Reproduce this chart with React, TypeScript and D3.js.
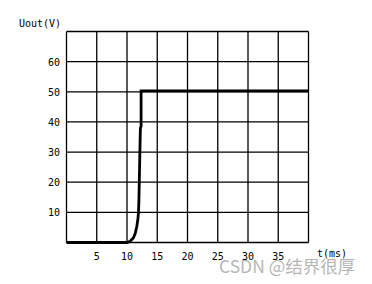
import React from "react";
import * as d3 from "d3";

const xTicks = [5, 10, 15, 20, 25, 30, 35];
const yTicks = [10, 20, 30, 40, 50, 60];
const xGrid = [0, 5, 10, 15, 20, 25, 30, 35, 40];
const yGrid = [0, 10, 20, 30, 40, 50, 60, 70];
const tValues = [0, 10, 10.5, 11.05, 11.35, 11.62, 11.8, 11.9, 11.97, 12.03, 12.17, 12.22, 12.33, 12.33, 12.67, 40];
const vValues = [0, 0, 0.4, 1.5, 3.0, 5.3, 7.8, 10, 14, 20, 34, 38, 38.6, 50.3, 50.3, 50.3];

const W = 372;
const H = 284;

export default function App() {
  const x = d3.scaleLinear().domain([0, 40]).range([66.5, 308.5]);
  const y = d3.scaleLinear().domain([0, 70]).range([242.5, 31.5]);
  const data = tValues.map((t, i) => [t, vValues[i]] as [number, number]);
  const line = d3
    .line<[number, number]>()
    .x((d) => x(d[0]))
    .y((d) => y(d[1]));
  const font = "'DejaVu Sans Mono', monospace";
  return (
    <svg
      width={W}
      height={H}
      style={{ position: "absolute", left: 0, top: 0, background: "#fff" }}
    >
      <rect x={0} y={0} width={W} height={H} fill="#fff" />
      {xGrid.map((v) => (
        <line key={"gx" + v} x1={x(v)} x2={x(v)} y1={y(0)} y2={y(70)} stroke="#000" strokeWidth={1.3} />
      ))}
      {yGrid.map((v) => (
        <line key={"gy" + v} x1={x(0)} x2={x(40)} y1={y(v)} y2={y(v)} stroke="#000" strokeWidth={1.3} />
      ))}
      <path d={line(data) || ""} fill="none" stroke="#000" strokeWidth={2.8} strokeLinejoin="miter" />
      {yTicks.map((v) => (
        <text key={"yt" + v} x={60} y={y(v) + 4} textAnchor="end" fontFamily={font} fontSize={10} fill="#000">
          {v}
        </text>
      ))}
      {xTicks.map((v) => (
        <text key={"xt" + v} x={x(v)} y={260} textAnchor="middle" fontFamily={font} fontSize={10} fill="#000">
          {v}
        </text>
      ))}
      <text x={19} y={27} fontFamily={font} fontSize={10} fill="#000">Uout(V)</text>
      <text x={317} y={257} fontFamily={font} fontSize={10} fill="#000">t(ms)</text>
      <text
        x={219}
        y={273}
        fontFamily="'Noto Sans CJK SC', 'Noto Sans', sans-serif"
        fontSize={17.5}
        fill="#a8a8a8"
        fillOpacity={0.85}
      >
        CSDN @结界很厚
      </text>
    </svg>
  );
}
